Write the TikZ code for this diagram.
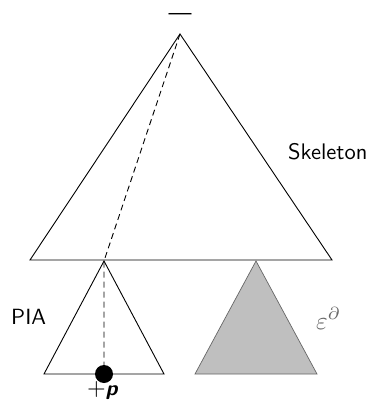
\documentclass[tikz,border=0pt]{standalone}
\usepackage{amssymb}
\renewcommand{\familydefault}{\sfdefault}
\begin{document}
\begin{tikzpicture}[x=1pt,y=-1pt,
  tri/.style={draw=black,line width=0.9pt,line join=miter},
  gtri/.style={draw=gray!80!black,fill=gray!50,line width=0.7pt},
  lbl/.style={inner sep=0pt,font=\normalsize\sffamily},
  dsh/.style={dashed,line width=0.9pt,dash pattern=on 6pt off 4pt}]
\useasboundingbox (0,0) rectangle (376,401);
% big triangle
\coordinate (top) at (180,34);
\coordinate (bl) at (30,260);
\coordinate (br) at (332,260);
\draw[tri] (top) -- (bl) -- (br) -- cycle;
% PIA triangle
\coordinate (pa) at (104,261);
\coordinate (pl) at (44,374);
\coordinate (pr) at (164,374);
\draw[tri] (pa) -- (pl) -- (pr) -- cycle;
% grey triangle
\coordinate (ga) at (256,261);
\coordinate (gl) at (195,374);
\coordinate (gr) at (317,374);
\draw[gtri] (ga) -- (gl) -- (gr) -- cycle;
% dashed path
\coordinate (pb) at (104,374);
\draw[dsh] (top) -- (pa) -- (pb);
\node[circle,fill=black,inner sep=0pt,minimum size=18pt] (dot) at (pb) {};
% labels
\node[lbl] (minus) at (180,17) {\scalebox{2.3}{---}};
\node[lbl,anchor=base west] (skel) at (288,159) {\scalebox{2.25}{Skeleton}};
\node[lbl,anchor=base west] (pia) at (11,324) {\scalebox{2.2}{PIA}};
\node[lbl,anchor=base] (plusp) at (103,395) {\scalebox{2.4}{+}\scalebox{2.1}{\textbf{\textsl{p}}}};
\node[lbl,text=black!60,anchor=base west] (eps) at (316,329) {\scalebox{2.5}{$\varepsilon^{\partial}$}};
\end{tikzpicture}
\end{document}
